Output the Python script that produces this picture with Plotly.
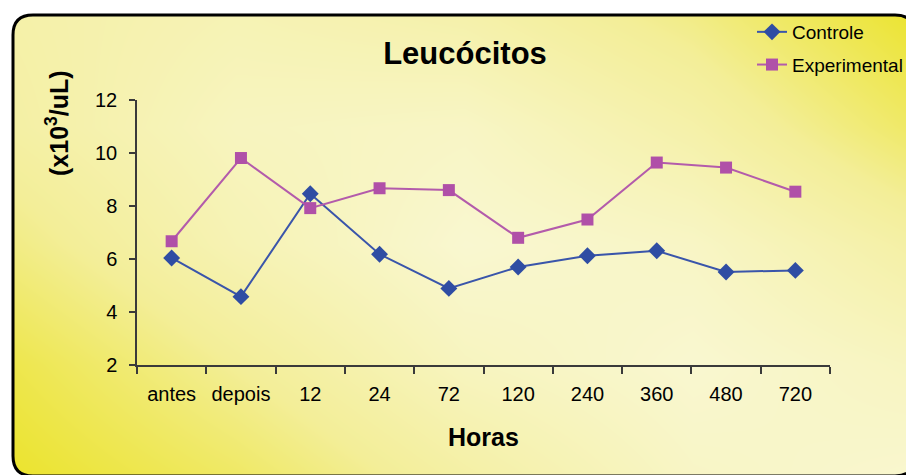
import plotly.graph_objects as go

# ---- data ----
categories = ["antes", "depois", "12", "24", "72", "120", "240", "360", "480", "720"]
controle = [6.04, 4.58, 8.46, 6.18, 4.89, 5.70, 6.12, 6.31, 5.51, 5.57]
experimental = [6.67, 9.81, 7.92, 8.67, 8.60, 6.80, 7.49, 9.64, 9.45, 8.54]
y_ticks = [2, 4, 6, 8, 10, 12]

# ---- geometry (page pixels; the page body adds an 8px offset) ----
W, H = 914, 475
OFF = 8


def fx(px):  # page x -> paper fraction
    return (px - OFF) / W


def fy(py):  # page y -> paper fraction
    return 1 - (py - OFF) / H


# ---- page background gradient (styling only) ----
bg_x = [0, 228, 457, 685, 914]
bg_y = [0, 119, 237, 356, 475]
bg_level = [
    [0.35, 0.25, 0.35, 0.60, 1.00],
    [0.40, 0.15, 0.10, 0.35, 0.75],
    [0.60, 0.25, 0.00, 0.10, 0.40],
    [0.85, 0.50, 0.15, 0.00, 0.15],
    [1.00, 0.75, 0.40, 0.10, 0.00],
]

FONT = "Liberation Sans, Arial, sans-serif"

fig = go.Figure()

fig.add_trace(go.Heatmap(
    x=bg_x, y=bg_y, z=bg_level, zsmooth="best", showscale=False,
    colorscale=[[0, "#f9f7d0"], [0.5, "#f3ee98"], [1, "#ebe32a"]],
    zmin=0, zmax=1, hoverinfo="skip", xaxis="x", yaxis="y", showlegend=False,
))

fig.add_trace(go.Scatter(
    x=categories, y=controle, name="Controle", mode="lines+markers",
    line=dict(color="#3a55aa", width=2),
    marker=dict(symbol="diamond", size=13, color="#2f4da3"),
    xaxis="x2", yaxis="y2", legendgroup="c",
))
fig.add_trace(go.Scatter(
    x=categories, y=experimental, name="Experimental", mode="lines+markers",
    line=dict(color="#b35bab", width=2),
    marker=dict(symbol="square", size=12, color="#b050a8"),
    xaxis="x2", yaxis="y2", legendgroup="e",
))

# rounded frame (figure pixels)
x0, x1, y0, y1, r = 13 - OFF, 915 - OFF, 15 - OFF, 476 - OFF, 20
frame = (f"M {x0+r},{y0} L {x1-r},{y0} Q {x1},{y0} {x1},{y0+r} "
         f"L {x1},{y1-r} Q {x1},{y1} {x1-r},{y1} L {x0+r},{y1} "
         f"Q {x0},{y1} {x0},{y1-r} L {x0},{y0+r} Q {x0},{y0} {x0+r},{y0} Z")
outer = "M -10,-10 L 930,-10 L 930,490 L -10,490 Z "

ax_col = "#3a3a3a"
fig.update_layout(
    width=W, height=H,
    margin=dict(l=0, r=0, t=0, b=0, autoexpand=False),
    paper_bgcolor="white",
    plot_bgcolor="rgba(0,0,0,0)",
    font=dict(family=FONT, color="black"),
    title=dict(text="<b>Leucócitos</b>", x=fx(465), xanchor="center",
               y=fy(53), yanchor="middle",
               font=dict(family=FONT, size=31, color="black")),
    xaxis=dict(domain=[0, 1], range=[0, W], visible=False, fixedrange=True),
    yaxis=dict(domain=[0, 1], range=[H, 0], visible=False, fixedrange=True),
    xaxis2=dict(domain=[fx(137), fx(830)], anchor="y2", type="category",
                range=[-0.5, 9.5], tickson="boundaries", automargin=False,
                showline=True, linecolor=ax_col, linewidth=1.5,
                ticks="outside", ticklen=7, tickcolor=ax_col, tickwidth=1.5,
                showgrid=False, zeroline=False, ticklabelstandoff=10,
                tickfont=dict(family=FONT, size=20, color="black")),
    yaxis2=dict(domain=[fy(365), fy(100)], anchor="x2", automargin=False,
                range=[2, 12], tickvals=y_ticks,
                showline=True, linecolor=ax_col, linewidth=1.5,
                ticks="outside", ticklen=6, tickcolor=ax_col, tickwidth=1.5,
                showgrid=False, zeroline=False, ticklabelstandoff=8,
                tickfont=dict(family=FONT, size=20, color="black")),
    legend=dict(x=fx(752), xanchor="left", y=fy(13), yanchor="top",
                bgcolor="rgba(0,0,0,0)", traceorder="grouped",
                tracegroupgap=5, entrywidth=150,
                font=dict(family=FONT, size=19, color="black")),
    annotations=[
        dict(text="<b>(x10<sup>3</sup>/uL)</b>", textangle=-90,
             x=fx(57), y=fy(123), xref="paper", yref="paper",
             xanchor="center", yanchor="middle", showarrow=False,
             font=dict(family=FONT, size=25, color="black")),
        dict(text="<b>Horas</b>", x=fx(483), y=fy(437),
             xref="paper", yref="paper", xanchor="center", yanchor="middle",
             showarrow=False, font=dict(family=FONT, size=25, color="black")),
    ],
    shapes=[
        dict(type="path", path=outer + frame, xref="x", yref="y",
             fillcolor="white", fillrule="evenodd", line=dict(width=0),
             layer="above"),
        dict(type="path", path=frame, xref="x", yref="y",
             line=dict(color="black", width=3), layer="above"),
    ],
)

fig.write_html("out.html")
